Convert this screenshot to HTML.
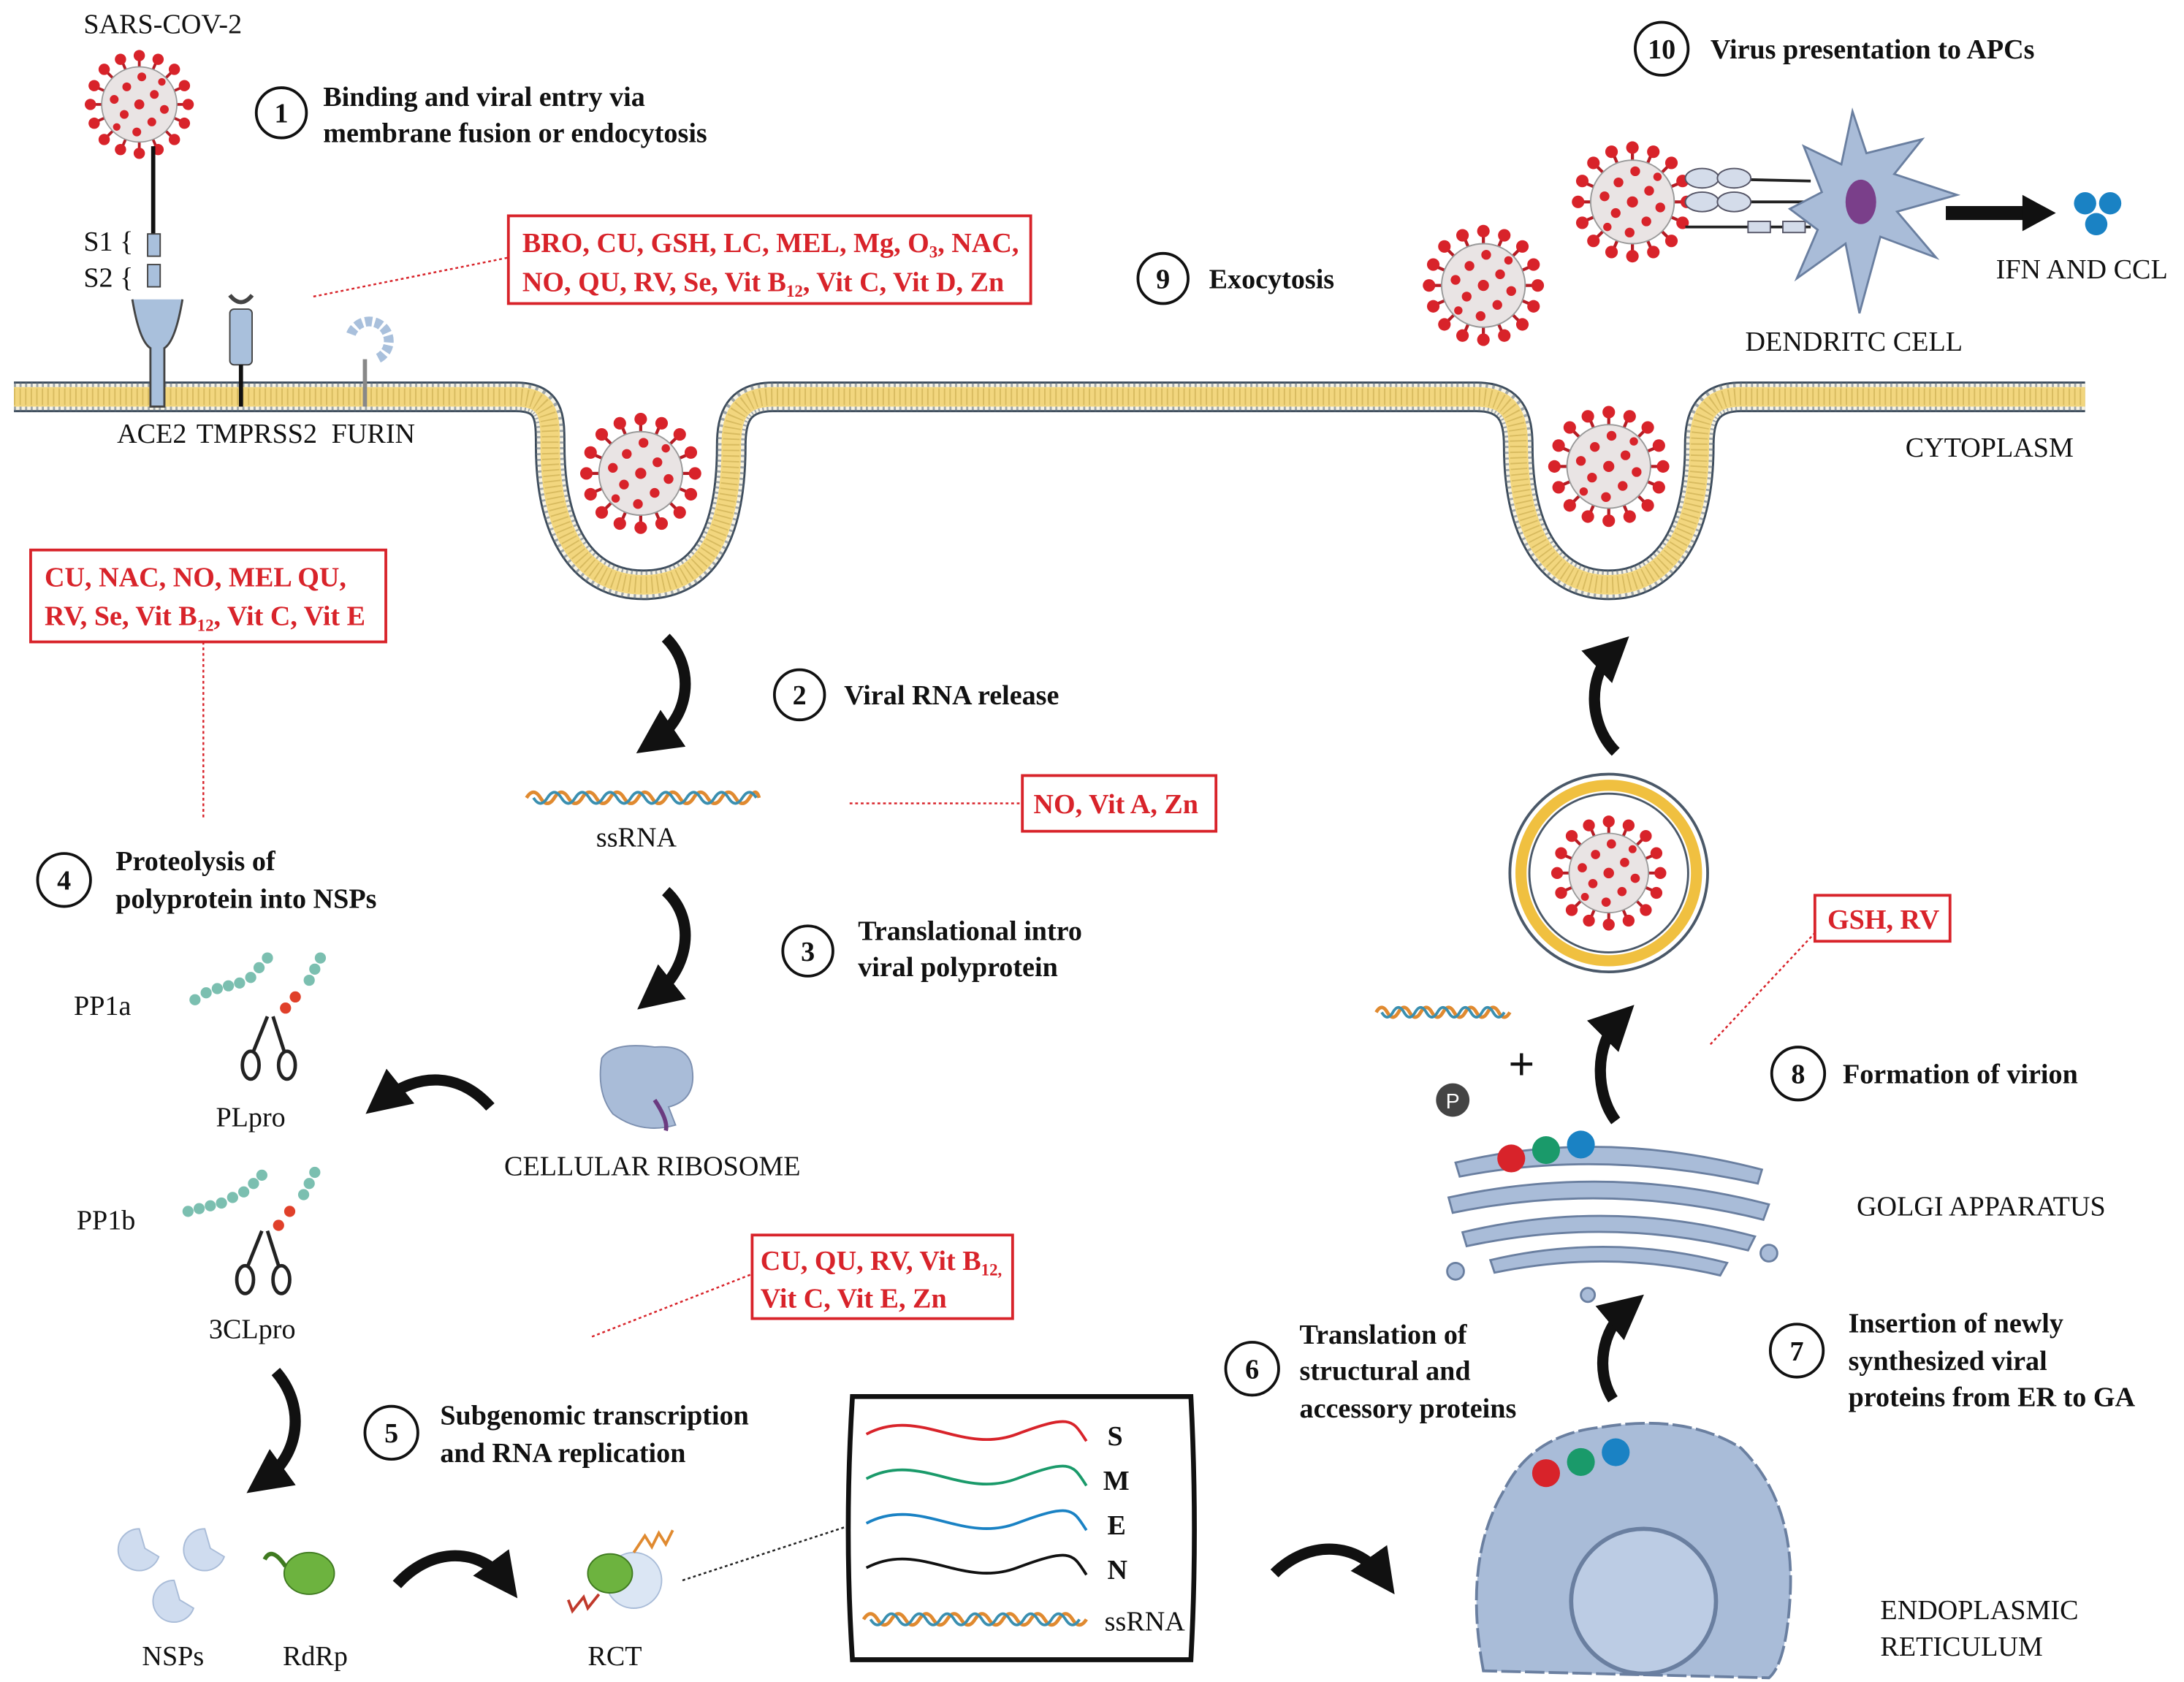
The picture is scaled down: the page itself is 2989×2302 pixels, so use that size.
<!DOCTYPE html>
<html><head><meta charset="utf-8"><style>
html,body{margin:0;padding:0;background:#fff}
svg{display:block}
text{font-family:"Liberation Serif",serif;fill:#111}
.b{font-weight:bold;font-size:20px}
.r{font-size:20px}
.red{font-weight:bold;font-size:20px;fill:#d8232a}
.box{fill:#fff;stroke:#d8232a;stroke-width:2}
.dot{stroke:#d8232a;stroke-width:1.3;stroke-dasharray:2 2;fill:none}
.num{fill:#fff;stroke:#111;stroke-width:2}
.arr{fill:none;stroke:#111;stroke-width:8;stroke-linecap:butt}
</style></head><body>
<svg width="2989" height="2302" viewBox="0 0 1568 1208" preserveAspectRatio="none" xmlns="http://www.w3.org/2000/svg">
<defs>
<path id="mem" d="M10,285 L370,285 C395,285 395,300 395,320 C395,385 420,420 462,420 C505,420 525,385 525,320 C525,300 530,285 555,285 L1060,285 C1085,285 1090,300 1090,320 C1090,385 1115,420 1155,420 C1195,420 1220,385 1220,320 C1220,300 1225,285 1250,285 L1497,285"/>
<g id="virus">
 <g stroke="#b51c24" stroke-width="2.2">
  <line x1="0" y1="-30" x2="0" y2="-38"/><line x1="0" y1="30" x2="0" y2="38"/>
  <line x1="-30" y1="0" x2="-38" y2="0"/><line x1="30" y1="0" x2="38" y2="0"/>
  <line x1="21" y1="21" x2="27" y2="27"/><line x1="-21" y1="-21" x2="-27" y2="-27"/>
  <line x1="21" y1="-21" x2="27" y2="-27"/><line x1="-21" y1="21" x2="-27" y2="27"/>
  <line x1="11" y1="28" x2="14" y2="35"/><line x1="-11" y1="-28" x2="-14" y2="-35"/>
  <line x1="28" y1="11" x2="35" y2="14"/><line x1="-28" y1="-11" x2="-35" y2="-14"/>
  <line x1="-11" y1="28" x2="-14" y2="35"/><line x1="11" y1="-28" x2="14" y2="-35"/>
  <line x1="28" y1="-11" x2="35" y2="-14"/><line x1="-28" y1="11" x2="-35" y2="14"/>
 </g>
 <g fill="#d8232a">
  <circle cx="0" cy="-39" r="4.5"/><circle cx="0" cy="39" r="4.5"/><circle cx="-39" cy="0" r="4.5"/><circle cx="39" cy="0" r="4.5"/>
  <circle cx="28" cy="28" r="4.5"/><circle cx="-28" cy="-28" r="4.5"/><circle cx="28" cy="-28" r="4.5"/><circle cx="-28" cy="28" r="4.5"/>
  <circle cx="15" cy="36" r="4.5"/><circle cx="-15" cy="-36" r="4.5"/><circle cx="36" cy="15" r="4.5"/><circle cx="-36" cy="-15" r="4.5"/>
  <circle cx="-15" cy="36" r="4.5"/><circle cx="15" cy="-36" r="4.5"/><circle cx="36" cy="-15" r="4.5"/><circle cx="-36" cy="15" r="4.5"/>
 </g>
 <circle r="30" fill="#e9e4e4" stroke="#999" stroke-width="1"/>
 <g fill="#d8232a">
  <circle cx="0" cy="0" r="4"/><circle cx="12" cy="-8" r="3.5"/><circle cx="-12" cy="8" r="3.5"/><circle cx="-10" cy="-14" r="3.5"/>
  <circle cx="10" cy="14" r="3.5"/><circle cx="20" cy="4" r="3.5"/><circle cx="-20" cy="-4" r="3.5"/><circle cx="2" cy="-22" r="3.5"/>
  <circle cx="-2" cy="22" r="3.5"/><circle cx="18" cy="-18" r="3"/><circle cx="-18" cy="18" r="3"/>
 </g>
</g>
<marker id="ah" viewBox="0 0 10 10" refX="5" refY="5" markerWidth="4" markerHeight="4" orient="auto"><path d="M0,0 L10,5 L0,10z" fill="#111"/></marker>
</defs>

<!-- membrane -->
<g fill="none">
 <use href="#mem" stroke="#3b4a5a" stroke-width="22"/>
 <use href="#mem" stroke="#f6f3e6" stroke-width="19"/>
 <use href="#mem" stroke="#f2d67e" stroke-width="12"/>
 <use href="#mem" stroke="#c9a850" stroke-width="12" stroke-dasharray="1 3"/>
 <use href="#mem" stroke="#5a6878" stroke-width="21" stroke-dasharray="1.5 2.5" opacity="0.55"/>
 <use href="#mem" stroke="#f2d67e" stroke-width="14"/>
 <use href="#mem" stroke="#d8bb60" stroke-width="12" stroke-dasharray="1 3"/>
</g>

<!-- viruses -->
<use href="#virus" transform="translate(100,75) scale(0.9)"/>
<line x1="110" y1="105" x2="110" y2="168" stroke="#111" stroke-width="3"/>
<rect x="106" y="168" width="9" height="16" fill="#a9c0dc" stroke="#444"/>
<rect x="106" y="190" width="9" height="16" fill="#a9c0dc" stroke="#444"/>
<use href="#virus" transform="translate(460,340)"/>
<use href="#virus" transform="translate(1065,205)"/>
<use href="#virus" transform="translate(1155,335)"/>
<use href="#virus" transform="translate(1172,145)"/>

<!-- receptors -->
<path d="M95,215 Q100,245 108,250 L108,292 L118,292 L118,250 Q126,245 131,215" fill="#a9c0dc" stroke="#444" stroke-width="1.5"/>
<rect x="165" y="222" width="16" height="40" rx="3" fill="#a9c0dc" stroke="#444"/>
<path d="M165,212 Q173,222 181,212" fill="none" stroke="#444" stroke-width="3"/>
<line x1="173" y1="262" x2="173" y2="292" stroke="#111" stroke-width="3"/>
<path d="M252,240 A14,14 0 1 1 270,258" fill="none" stroke="#a9c0dc" stroke-width="7" stroke-dasharray="5 2"/>
<line x1="262" y1="258" x2="262" y2="292" stroke="#888" stroke-width="3"/>

<!-- text -->
<text x="60" y="24" class="r">SARS-COV-2</text>
<text x="60" y="180" class="r">S1 {</text>
<text x="60" y="206" class="r">S2 {</text>
<text x="84" y="318" class="r">ACE2</text><text x="141" y="318" class="r">TMPRSS2</text><text x="238" y="318" class="r">FURIN</text>
<circle cx="202" cy="81" r="18" class="num"/><text x="202" y="88" class="b" text-anchor="middle">1</text>
<text x="232" y="76" class="b">Binding and viral entry via</text>
<text x="232" y="102" class="b">membrane fusion or endocytosis</text>

<line x1="225" y1="213" x2="365" y2="185" class="dot"/>
<rect x="365" y="155" width="375" height="63" class="box"/>
<text x="375" y="181" class="red">BRO, CU, GSH, LC, MEL, Mg, O<tspan font-size="12" dy="4">3</tspan><tspan dy="-4">, NAC,</tspan></text>
<text x="375" y="209" class="red">NO, QU, RV, Se, Vit B<tspan font-size="12" dy="4">12</tspan><tspan dy="-4">, Vit C, Vit D, Zn</tspan></text>

<circle cx="835" cy="200" r="18" class="num"/><text x="835" y="207" class="b" text-anchor="middle">9</text>
<text x="868" y="207" class="b">Exocytosis</text>
<circle cx="1193" cy="35" r="19" class="num"/><text x="1193" y="42" class="b" text-anchor="middle">10</text>
<text x="1228" y="42" class="b">Virus presentation to APCs</text>

<!-- dendritic cell -->
<g stroke="#222" stroke-width="2">
 <line x1="1210" y1="128" x2="1300" y2="130"/><line x1="1210" y1="145" x2="1300" y2="145"/><line x1="1210" y1="163" x2="1300" y2="163"/>
</g>
<g fill="#d4dcea" stroke="#556" stroke-width="1">
 <ellipse cx="1222" cy="128" rx="12" ry="7"/><ellipse cx="1245" cy="128" rx="12" ry="7"/>
 <ellipse cx="1222" cy="145" rx="12" ry="7"/><ellipse cx="1245" cy="145" rx="12" ry="7"/>
 <rect x="1255" y="159" width="16" height="8"/><rect x="1280" y="159" width="16" height="8"/>
</g>
<path d="M1330,80 L1340,110 L1380,100 L1360,125 L1405,140 L1362,152 L1390,185 L1350,170 L1335,225 L1325,175 L1290,200 L1305,165 L1285,150 L1308,138 L1295,105 L1322,118 Z" fill="#a9bcd8" stroke="#6a7fa0" stroke-width="1.5"/>
<ellipse cx="1336" cy="145" rx="11" ry="16" fill="#7a3f8a"/>
<text x="1253" y="252" class="r">DENDRITC CELL</text>
<line x1="1397" y1="153" x2="1455" y2="153" stroke="#111" stroke-width="10"/>
<path d="M1452,140 L1476,153 L1452,166 Z" fill="#111"/>
<circle cx="1497" cy="146" r="8" fill="#1a82c4"/><circle cx="1515" cy="146" r="8" fill="#1a82c4"/><circle cx="1505" cy="161" r="8" fill="#1a82c4"/>
<text x="1433" y="200" class="r">IFN AND CCL</text>
<text x="1368" y="328" class="r">CYTOPLASM</text>

<!-- left box -->
<rect x="22" y="395" width="255" height="66" class="box"/>
<text x="32" y="421" class="red">CU, NAC, NO, MEL QU,</text>
<text x="32" y="449" class="red">RV, Se, Vit B<tspan font-size="12" dy="4">12</tspan><tspan dy="-4">, Vit C, Vit E</tspan></text>
<line x1="146" y1="461" x2="146" y2="588" class="dot"/>

<!-- arrows -->
<path d="M478,458 C500,480 495,515 470,532" class="arr" marker-end="url(#ah)"/>
<path d="M478,640 C500,660 495,695 470,715" class="arr" marker-end="url(#ah)"/>
<path d="M352,795 C330,770 300,770 275,790" class="arr" marker-end="url(#ah)"/>
<path d="M198,985 C220,1010 215,1045 190,1063" class="arr" marker-end="url(#ah)"/>
<path d="M285,1138 C310,1110 345,1112 362,1135" class="arr" marker-end="url(#ah)"/>
<path d="M915,1130 C940,1105 975,1108 992,1132" class="arr" marker-end="url(#ah)"/>
<path d="M1158,1005 C1145,985 1150,955 1168,940" class="arr" marker-end="url(#ah)"/>
<path d="M1160,805 C1145,785 1145,750 1162,733" class="arr" marker-end="url(#ah)"/>
<path d="M1160,540 C1140,520 1140,485 1158,468" class="arr" marker-end="url(#ah)"/>

<circle cx="574" cy="499" r="18" class="num"/><text x="574" y="506" class="b" text-anchor="middle">2</text>
<text x="606" y="506" class="b">Viral RNA release</text>

<!-- ssRNA -->
<path d="M378,573 q5,-8 10,0 t10,0 t10,0 t10,0 t10,0 t10,0 t10,0 t10,0 t10,0 t10,0 t10,0 t10,0 t10,0 t10,0 t10,0 t10,0 t7,0" fill="none" stroke="#e08a30" stroke-width="2.5"/>
<path d="M383,573 q5,8 10,0 t10,0 t10,0 t10,0 t10,0 t10,0 t10,0 t10,0 t10,0 t10,0 t10,0 t10,0 t10,0 t10,0 t10,0 t10,0" fill="none" stroke="#3a8fb0" stroke-width="2"/>
<text x="428" y="608" class="r">ssRNA</text>
<line x1="610" y1="577" x2="734" y2="577" class="dot"/>
<rect x="734" y="557" width="139" height="40" class="box"/>
<text x="742" y="584" class="red">NO, Vit A, Zn</text>

<circle cx="580" cy="683" r="18" class="num"/><text x="580" y="690" class="b" text-anchor="middle">3</text>
<text x="616" y="675" class="b">Translational intro</text>
<text x="616" y="701" class="b">viral polyprotein</text>

<!-- ribosome -->
<path d="M432,760 Q440,748 470,752 Q495,750 497,768 Q500,790 480,795 L485,808 Q460,815 440,800 Q428,785 432,760Z" fill="#a9bcd8" stroke="#7d90b0"/>
<path d="M470,790 Q480,805 478,812" stroke="#6b3a80" stroke-width="3" fill="none"/>
<text x="362" y="844" class="r">CELLULAR RIBOSOME</text>

<circle cx="46" cy="632" r="19" class="num"/><text x="46" y="639" class="b" text-anchor="middle">4</text>
<text x="83" y="625" class="b">Proteolysis of</text>
<text x="83" y="652" class="b">polyprotein into NSPs</text>

<!-- polyproteins -->
<g fill="#7bbfb0">
<circle cx="140" cy="718" r="4"/><circle cx="148" cy="713" r="4"/><circle cx="156" cy="710" r="4"/><circle cx="164" cy="708" r="4"/><circle cx="172" cy="706" r="4"/><circle cx="180" cy="702" r="4"/><circle cx="186" cy="695" r="4"/><circle cx="192" cy="688" r="4"/>
<circle cx="230" cy="688" r="4"/><circle cx="226" cy="696" r="4"/><circle cx="222" cy="704" r="4"/>
<circle cx="135" cy="870" r="4"/><circle cx="143" cy="868" r="4"/><circle cx="151" cy="866" r="4"/><circle cx="159" cy="864" r="4"/><circle cx="167" cy="860" r="4"/><circle cx="175" cy="856" r="4"/><circle cx="182" cy="850" r="4"/><circle cx="188" cy="844" r="4"/>
<circle cx="226" cy="842" r="4"/><circle cx="222" cy="850" r="4"/><circle cx="218" cy="858" r="4"/>
</g>
<g fill="#e0402a"><circle cx="212" cy="716" r="4"/><circle cx="205" cy="724" r="4"/><circle cx="208" cy="870" r="4"/><circle cx="200" cy="880" r="4"/></g>
<g stroke="#222" stroke-width="2.5" fill="none">
<line x1="192" y1="730" x2="182" y2="755"/><line x1="196" y1="730" x2="204" y2="755"/><ellipse cx="180" cy="765" rx="6" ry="10"/><ellipse cx="206" cy="765" rx="6" ry="10"/>
<line x1="188" y1="884" x2="178" y2="909"/><line x1="192" y1="884" x2="200" y2="909"/><ellipse cx="176" cy="919" rx="6" ry="10"/><ellipse cx="202" cy="919" rx="6" ry="10"/>
</g>
<text x="53" y="729" class="r">PP1a</text>
<text x="155" y="809" class="r">PLpro</text>
<text x="55" y="883" class="r">PP1b</text>
<text x="150" y="961" class="r">3CLpro</text>

<line x1="425" y1="960" x2="540" y2="915" class="dot"/>
<rect x="540" y="887" width="187" height="60" class="box"/>
<text x="546" y="912" class="red">CU, QU, RV, Vit B<tspan font-size="12" dy="4">12,</tspan></text>
<text x="546" y="939" class="red">Vit C, Vit E, Zn</text>

<circle cx="281" cy="1029" r="19" class="num"/><text x="281" y="1036" class="b" text-anchor="middle">5</text>
<text x="316" y="1023" class="b">Subgenomic transcription</text>
<text x="316" y="1050" class="b">and RNA replication</text>

<!-- NSPs -->
<g fill="#cfdcef" stroke="#a9bcd8">
<path d="M100,1098 a15,15 0 1 0 14,20 l-10,-6 z"/><path d="M147,1098 a15,15 0 1 0 14,20 l-10,-6 z"/><path d="M125,1135 a15,15 0 1 0 14,20 l-10,-6 z"/>
</g>
<ellipse cx="222" cy="1130" rx="18" ry="15" fill="#6db33f" stroke="#3f7a20"/>
<path d="M205,1125 Q195,1110 190,1120" stroke="#3f7a20" stroke-width="3" fill="none"/>
<text x="102" y="1196" class="r">NSPs</text><text x="203" y="1196" class="r">RdRp</text>
<circle cx="455" cy="1135" r="20" fill="#dbe6f4" stroke="#a9bcd8"/>
<ellipse cx="438" cy="1130" rx="16" ry="14" fill="#6db33f" stroke="#3f7a20"/>
<path d="M455,1115 l8,-12 l5,8 l5,-10 l5,8 l5,-10" stroke="#e08a30" stroke-width="2" fill="none"/>
<path d="M430,1145 l-8,10 l-3,-8 l-8,10 l-3,-8" stroke="#c0392b" stroke-width="2" fill="none"/>
<text x="422" y="1196" class="r">RCT</text>
<line x1="490" y1="1135" x2="612" y2="1095" stroke="#222" stroke-width="1.3" stroke-dasharray="2 2"/>

<!-- gene box -->
<path d="M612,1003 L855,1003 Q860,1100 855,1192 L612,1192 Q606,1100 612,1003Z" fill="#fff" stroke="#111" stroke-width="3.5"/>
<path d="M622,1030 C660,1010 690,1045 730,1030 S770,1020 780,1035" stroke="#d8232a" stroke-width="2" fill="none"/>
<path d="M622,1062 C660,1042 690,1077 730,1062 S770,1052 780,1067" stroke="#1a9a6a" stroke-width="2" fill="none"/>
<path d="M622,1094 C660,1074 690,1109 730,1094 S770,1084 780,1099" stroke="#1a82c4" stroke-width="2" fill="none"/>
<path d="M622,1126 C660,1106 690,1141 730,1126 S770,1116 780,1131" stroke="#111" stroke-width="2" fill="none"/>
<path d="M620,1163 q5,-8 10,0 t10,0 t10,0 t10,0 t10,0 t10,0 t10,0 t10,0 t10,0 t10,0 t10,0 t10,0 t10,0 t10,0 t10,0 t10,0" fill="none" stroke="#e08a30" stroke-width="2.5"/>
<path d="M625,1163 q5,8 10,0 t10,0 t10,0 t10,0 t10,0 t10,0 t10,0 t10,0 t10,0 t10,0 t10,0 t10,0 t10,0 t10,0 t10,0" fill="none" stroke="#3a8fb0" stroke-width="2"/>
<text x="795" y="1038" class="b">S</text><text x="792" y="1070" class="b">M</text><text x="795" y="1102" class="b">E</text><text x="795" y="1134" class="b">N</text>
<text x="793" y="1171" class="r">ssRNA</text>

<circle cx="899" cy="983" r="19" class="num"/><text x="899" y="990" class="b" text-anchor="middle">6</text>
<text x="933" y="965" class="b">Translation of</text>
<text x="933" y="991" class="b">structural and</text>
<text x="933" y="1018" class="b">accessory proteins</text>

<!-- ER -->
<path d="M1065,1200 Q1050,1120 1080,1070 Q1100,1030 1150,1025 Q1210,1015 1250,1040 Q1290,1080 1285,1150 Q1282,1195 1270,1205 Z" fill="#a9bcd8" stroke="#6a7fa0" stroke-width="2" stroke-dasharray="14 3"/>
<circle cx="1180" cy="1150" r="52" fill="#bccce4" stroke="#6a7fa0" stroke-width="3"/>
<circle cx="1110" cy="1058" r="10" fill="#d8232a"/><circle cx="1135" cy="1050" r="10" fill="#1a9a6a"/><circle cx="1160" cy="1043" r="10" fill="#1a82c4"/>
<text x="1350" y="1163" class="r">ENDOPLASMIC</text><text x="1350" y="1189" class="r">RETICULUM</text>

<circle cx="1290" cy="970" r="19" class="num"/><text x="1290" y="977" class="b" text-anchor="middle">7</text>
<text x="1327" y="957" class="b">Insertion of newly</text>
<text x="1327" y="984" class="b">synthesized viral</text>
<text x="1327" y="1010" class="b">proteins from ER to GA</text>

<!-- Golgi -->
<g fill="#a9bcd8" stroke="#6a7fa0" stroke-width="1.5">
<path d="M1045,835 Q1150,810 1265,840 L1262,850 Q1150,825 1048,845Z"/>
<path d="M1040,860 Q1155,835 1270,865 L1266,876 Q1155,848 1043,871Z"/>
<path d="M1050,885 Q1155,860 1260,888 L1255,898 Q1155,873 1053,895Z"/>
<path d="M1070,905 Q1155,885 1240,907 L1235,916 Q1155,897 1073,914Z"/>
<circle cx="1045" cy="913" r="6"/><circle cx="1270" cy="900" r="6"/><circle cx="1140" cy="930" r="5"/>
</g>
<circle cx="1085" cy="832" r="10" fill="#d8232a"/><circle cx="1110" cy="826" r="10" fill="#1a9a6a"/><circle cx="1135" cy="822" r="10" fill="#1a82c4"/>
<text x="1333" y="873" class="r">GOLGI APPARATUS</text>

<circle cx="1043" cy="790" r="12" fill="#444"/><text x="1043" y="796" text-anchor="middle" style="font-family:'Liberation Sans',sans-serif;font-size:15px;fill:#fff">P</text>
<text x="1083" y="775" style="font-family:'Liberation Sans',sans-serif;font-size:32px">+</text>
<path d="M988,727 q4,-7 8,0 t8,0 t8,0 t8,0 t8,0 t8,0 t8,0 t8,0 t8,0 t8,0 t8,0 t8,0" fill="none" stroke="#e08a30" stroke-width="2.5"/>
<path d="M992,727 q4,7 8,0 t8,0 t8,0 t8,0 t8,0 t8,0 t8,0 t8,0 t8,0 t8,0 t8,0" fill="none" stroke="#3a8fb0" stroke-width="2"/>

<circle cx="1291" cy="771" r="19" class="num"/><text x="1291" y="778" class="b" text-anchor="middle">8</text>
<text x="1323" y="778" class="b">Formation of virion</text>
<line x1="1228" y1="750" x2="1303" y2="670" class="dot"/>
<rect x="1303" y="643" width="97" height="33" class="box"/>
<text x="1312" y="667" class="red">GSH, RV</text>

<!-- vesicle -->
<circle cx="1155" cy="627" r="71" fill="#fff" stroke="#4a5868" stroke-width="2"/>
<circle cx="1155" cy="627" r="63" fill="none" stroke="#f0c040" stroke-width="8"/>
<circle cx="1155" cy="627" r="57" fill="#fff" stroke="#4a5868" stroke-width="1.5"/>
<use href="#virus" transform="translate(1155,627) scale(0.95)"/>
</svg>
</body></html>
